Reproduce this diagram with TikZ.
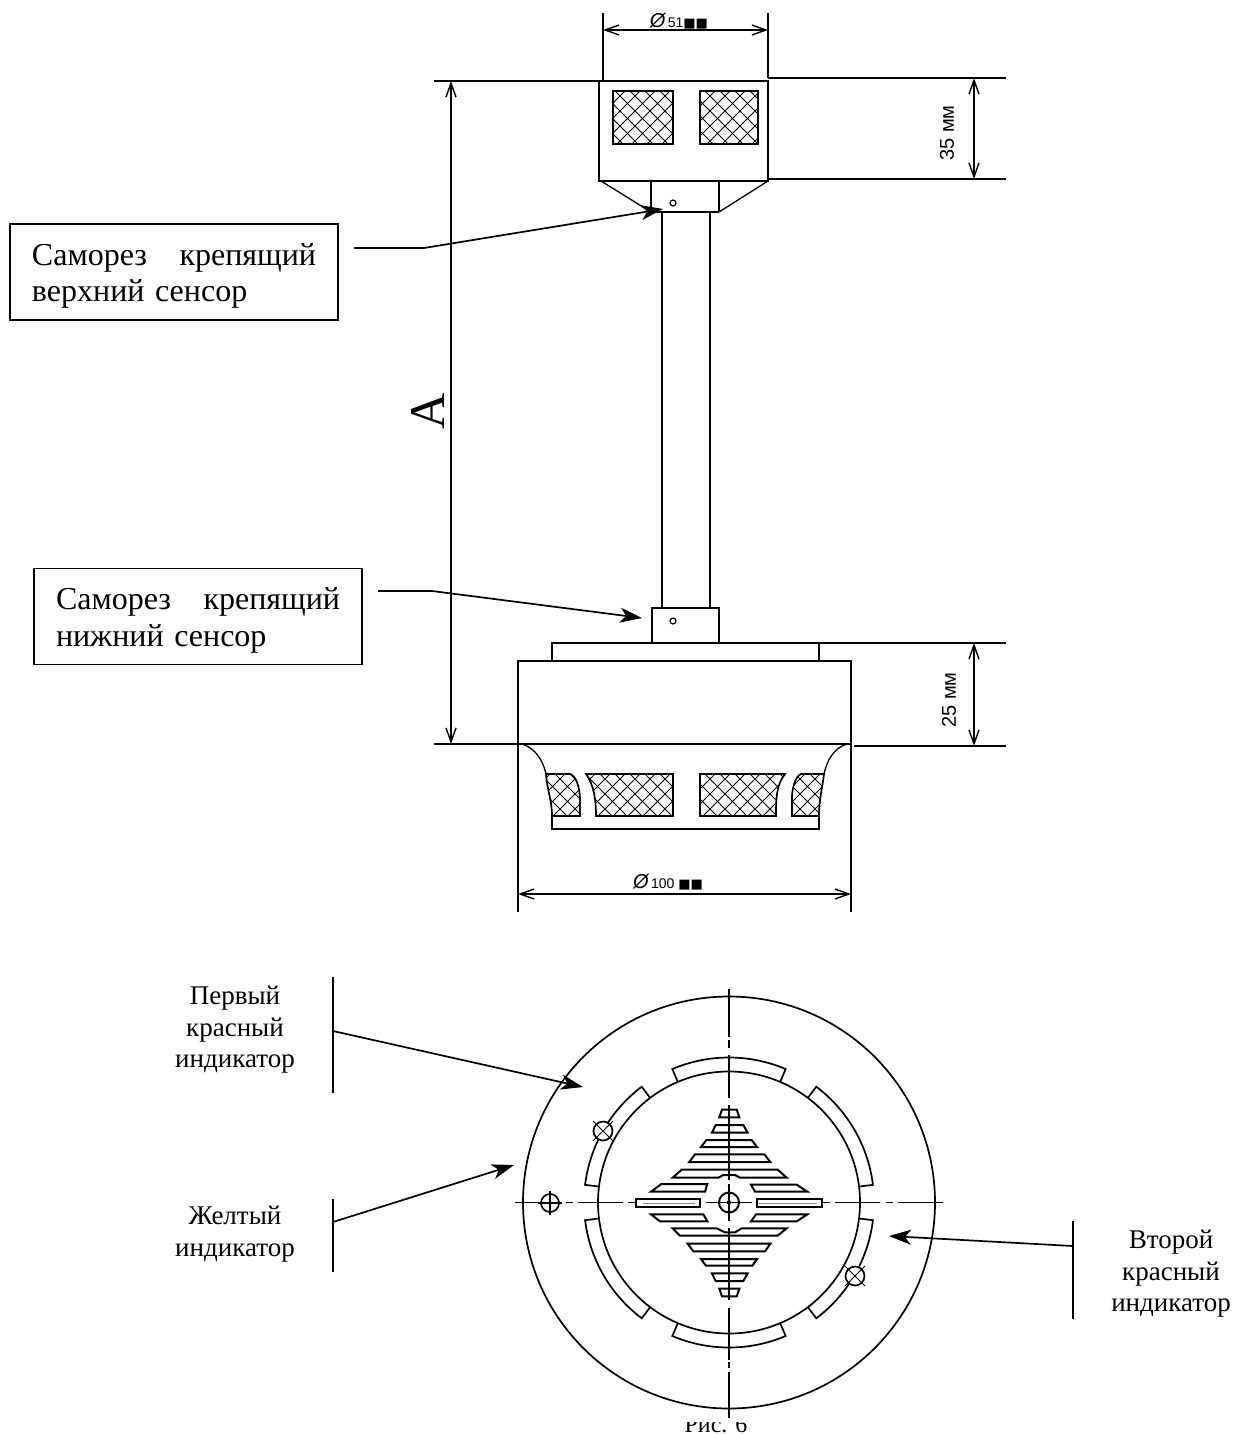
\documentclass[tikz,border=0pt]{standalone}
\usepackage{fontspec}
\setmainfont{Liberation Serif}
\newfontfamily\dimfont{Liberation Sans}
\newfontfamily\symfont{DejaVu Sans}
\usetikzlibrary{arrows.meta}
\tikzset{
  part/.style={line width=0.85pt,line join=miter},
  thinline/.style={line width=0.65pt},
  center line/.style={line width=0.6pt},
  louvre/.style={line width=1pt,line join=miter,fill=white},
  dimline/.style={line width=0.7pt,{Straight Barb[length=7pt,width=5pt,line width=0.7pt]}-{Straight Barb[length=7pt,width=5pt,line width=0.7pt]}},
  leader/.style={line width=0.85pt,-{Stealth[length=11pt,width=7.5pt,inset=3pt]}},
  notebox/.style={draw,line width=0.85pt,minimum width=164pt,minimum height=48pt,text width=142pt,align=left,inner xsep=11pt,inner ysep=0pt,font=\fontsize{16}{18.4}\selectfont},
  smalllabel/.style={align=center,font=\fontsize{13.5}{15.75}\selectfont},
  dimtext/.style={font=\dimfont\fontsize{10}{12}\selectfont},
}
\newcommand{\hatchshape}[2]{%
  \begin{scope}\clip #1;
    \foreach \t in {450,465,...,900}{
      \draw[line width=0.4pt] (\t,#2) -- ({\t+100},{#2+100});
      \draw[line width=0.4pt] (\t,{#2+100}) -- ({\t+100},#2);
    }
  \end{scope}
  \draw[part] #1;}
\newcommand{\ringseg}[2]{\draw[part] (#1:131) -- (#1:145) arc[start angle=#1,end angle=#2,radius=145] -- (#2:131);}
\begin{document}
\begin{tikzpicture}[x=0.5pt,y=-0.5pt]
\useasboundingbox (0,0) rectangle (1234,1434);

% --- top sensor
\draw[part] (434,81) -- (768,81);
\draw[part] (768,78) -- (1006,78);
\draw[part] (768,179) -- (1006,179);
\draw[part] (599,81) rectangle (768,181);
\draw[thinline] (603,13) -- (603,81);
\draw[thinline] (768,13) -- (768,78);
\coordinate (d51a) at (603,30);
\coordinate (d51b) at (768,30);
\draw[dimline] (d51a) -- (d51b);
\node[inner sep=0pt] (t51) at (679,21) {\dimfont\fontsize{10}{10}\selectfont\itshape Ø\upshape\fontsize{7}{7}\selectfont\,51\symfont\fontsize{6.5}{6.5}\selectfont ■■};
\hatchshape{(613,91) rectangle (673,144)}{91}
\hatchshape{(700,91) rectangle (758,144)}{91}
\draw[thinline] (651,181) -- (651,212);
\draw[thinline] (719,181) -- (719,212);
\draw[part] (651,212) -- (719,212);
\draw[thinline] (601,181) -- (651,212);
\draw[thinline] (768,181) -- (719,212);
\draw[line width=0.6pt] (673,203) circle[radius=3];
\draw[part] (662,212) -- (662,608);
\draw[part] (710,212) -- (710,608);
\coordinate (d35a) at (974,78);
\coordinate (d35b) at (974,179);
\draw[dimline] (d35a) -- (d35b);
\node[dimtext,rotate=90,inner sep=0pt] (t35) at (947,133) {35 мм};

% --- overall dimension A
\coordinate (dAa) at (451,81);
\coordinate (dAb) at (451,744);
\draw[dimline] (dAa) -- (dAb);
\node[rotate=90,inner sep=0pt,font=\fontsize{25}{25}\selectfont] (tA) at (428,411) {A};

% --- bottom sensor
\draw[part] (652,608) rectangle (719,643);
\draw[line width=0.6pt] (673,621) circle[radius=3];
\draw[part] (552,661) -- (552,643) -- (1006,643);
\draw[part] (819,643) -- (819,661);
\draw[part] (518,912) -- (518,661) -- (851,661) -- (851,912);
\draw[part] (434,744) -- (851,744);
\draw[part] (854,746) -- (1006,746);
\coordinate (d25a) at (974,643);
\coordinate (d25b) at (974,746);
\draw[dimline] (d25a) -- (d25b);
\node[dimtext,rotate=90,inner sep=0pt] (t25) at (949,700) {25 мм};
\coordinate (d100a) at (518,894);
\coordinate (d100b) at (851,894);
\draw[dimline] (d100a) -- (d100b);
\node[inner sep=0pt] (t100) at (668,882) {\dimfont\fontsize{10}{10}\selectfont\itshape Ø\upshape\fontsize{7}{7}\selectfont\,100\;\symfont\fontsize{6.5}{6.5}\selectfont ■■};
\draw[thinline] (522,744) .. controls (535,748) and (543,760) .. (546,774);
\draw[thinline] (847,744) .. controls (834,748) and (827,760) .. (824,774);
\hatchshape{(546,774) -- (570,774) .. controls (577,776) and (580,790) .. (580,800) -- (580,816) -- (552,816) .. controls (552,800) and (547,790) .. cycle}{774}
\hatchshape{(586,774) -- (673,774) -- (673,816) -- (596,816) .. controls (596,800) and (594,785) .. cycle}{774}
\hatchshape{(700,774) -- (785,774) .. controls (776,785) and (776,800) .. (776,816) -- (700,816) -- cycle}{774}
\hatchshape{(801,774) -- (824,774) .. controls (822,790) and (819,800) .. (819,816) -- (792,816) -- (792,797) .. controls (792,790) and (795,776) .. cycle}{774}
\draw[part] (552,816) -- (552,829) -- (819,829) -- (819,816);

% --- text boxes with leaders
\node[notebox] (box1) at (174,272) {\rule{0pt}{15pt}Саморез\hfill крепящий\\верхний сенсор};
\node[notebox] (box2) at (198,616.5) {\rule{0pt}{15pt}Саморез\hfill крепящий\\нижний сенсор};
\coordinate (l1a) at (354,248);
\coordinate (l1b) at (424,248);
\coordinate (l1c) at (663,209);
\draw[leader] (l1a) -- (l1b) -- (l1c);
\coordinate (l2a) at (378,591);
\coordinate (l2b) at (432,591);
\coordinate (l2c) at (642,618);
\draw[leader] (l2a) -- (l2b) -- (l2c);

% --- caption, its upper part hidden
\node[anchor=base,inner sep=0pt,font=\fontsize{12}{12}\selectfont] (cap) at (716,1432) {Рис. 6};
\fill[white] (670,1400) rectangle (760,1422);

% --- plan view
\begin{scope}[shift={(729,1202.5)},x=0.5pt,y=0.5pt]
  \draw[part] (0,0) circle[radius=206];
  \draw[part] (0,0) circle[radius=131];
  \ringseg{7}{53}
  \ringseg{67}{113}
  \ringseg{127}{173}
  \ringseg{187}{233}
  \ringseg{247}{293}
  \ringseg{307}{353}
\end{scope}
% centre lines
\foreach \a/\b in {989/1037,1040/1048,1055/1098,1184/1221,1308/1360,1362/1368,1372/1418}
  \draw[center line] (729,\a) -- (729,\b);
\foreach \a/\b in {515/560,566/573,578/623,628/636,706/752,822/830,835/880,886/893,898/943}
  \draw[center line] (\a,1202.5) -- (\b,1202.5);
% screws
\draw[part,fill=white] (603,1131) circle[radius=9.5];
\draw[line width=0.4pt] (593,1121) -- (613,1141);
\draw[line width=0.4pt] (593,1141) -- (613,1121);
\draw[part,fill=white] (855,1276) circle[radius=9.5];
\draw[line width=0.4pt] (845,1266) -- (865,1286);
\draw[line width=0.4pt] (845,1286) -- (865,1266);
\draw[part] (550,1203) circle[radius=9];
\draw[line width=0.55pt] (550,1191) -- (550,1215);
\draw[line width=0.55pt] (538,1203) -- (562,1203);
\draw[line width=1pt] (729,1202.5) circle[radius=10];
\fill (729,1202.5) circle[radius=2.2];

% louvres
\begin{scope}[shift={(620,1100)},x=0.16667pt,y=-0.16667pt]
  \foreach \p in {
    {(298,52) -- (306,29) -- (350,29) -- (358,52)},
    {(276,98) -- (287,75) -- (370,75) -- (383,98)},
    {(243,141) -- (259,120) -- (395,120) -- (411,141)},
    {(208,186) -- (225,163) -- (433,163) -- (451,186)},
    {(158,233) -- (185,209) -- (473,209) -- (500,233) -- (360,233) -- (345,225) -- (310,225) -- (295,233)},
    {(93,275) -- (124,252) -- (262,252) -- (255,275)},
    {(393,254) -- (530,254) -- (562,275) -- (405,275)},
    {(47,296) -- (241,296) -- (241,322) -- (47,322)},
    {(411,296) -- (605,296) -- (605,322) -- (411,322)},
    {(93,343) -- (120,364) -- (262,364) -- (250,343)},
    {(393,364) -- (408,343) -- (562,343) -- (530,364)},
    {(158,385) -- (180,407) -- (473,407) -- (500,385) -- (365,385) -- (345,397) -- (315,397) -- (290,385)},
    {(203,431) -- (220,454) -- (435,454) -- (451,431)},
    {(243,477) -- (258,497) -- (397,497) -- (411,477)},
    {(276,520) -- (287,543) -- (370,543) -- (383,520)},
    {(298,566) -- (306,589) -- (350,589) -- (358,566)}
  }{
    \draw[louvre] \p -- cycle;
  }
  \draw[line width=0.4pt,black!45] (68,309) -- (225,309);
  \draw[line width=0.4pt,black!45] (418,309) -- (590,309);
\end{scope}
% centre line over the louvres
\draw[center line] (729,1105) -- (729,1180);
\draw[center line] (729,1228) -- (729,1300);

% labels of the plan view
\node[smalllabel] (lab1) at (235,1030) {Первый\\красный\\индикатор};
\node[smalllabel] (lab2) at (235,1234) {Желтый\\индикатор};
\node[smalllabel] (lab3) at (1171,1274) {Второй\\красный\\индикатор};
\coordinate (bar1a) at (333,977);
\coordinate (bar1b) at (333,1093);
\coordinate (bar2a) at (333,1199);
\coordinate (bar2b) at (333,1272);
\coordinate (bar3a) at (1073,1221);
\coordinate (bar3b) at (1073,1319);
\draw[part] (bar1a) -- (bar1b);
\draw[part] (bar2a) -- (bar2b);
\draw[part] (bar3a) -- (bar3b);
\coordinate (a1s) at (333,1031);
\coordinate (a1t) at (583,1087);
\coordinate (a2s) at (333,1222);
\coordinate (a2t) at (514,1165);
\coordinate (a3s) at (1073,1246);
\coordinate (a3t) at (889,1236);
\draw[leader] (a1s) -- (a1t);
\draw[leader] (a2s) -- (a2t);
\draw[leader] (a3s) -- (a3t);
\end{tikzpicture}
\end{document}
